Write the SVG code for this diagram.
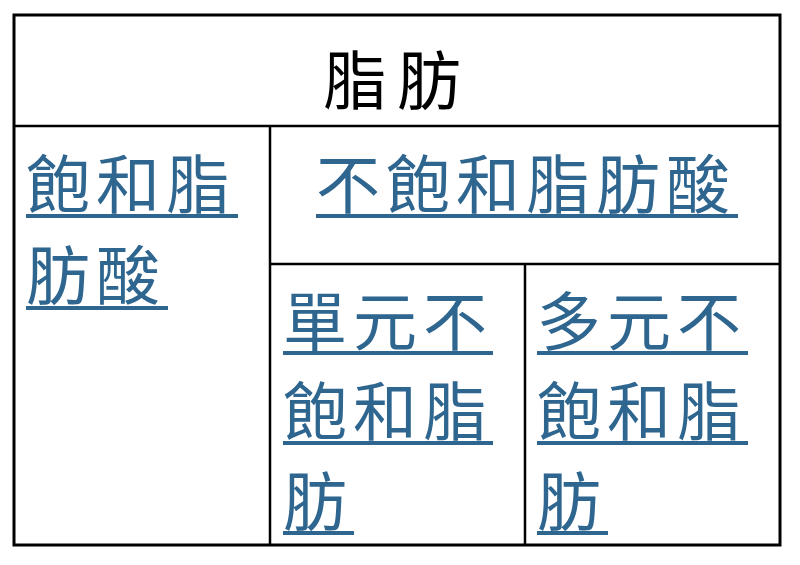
<svg xmlns="http://www.w3.org/2000/svg" width="800" height="565" viewBox="0 0 800 565">
<style>
.t{font-family:"Noto Sans CJK TC","Noto Sans CJK SC",sans-serif;font-size:64px;letter-spacing:6px}
.b{fill:#2F6690}
.h{fill:#000}
.u{fill:#2F6690}
.grid{stroke:#000;fill:none}
</style>
<rect width="800" height="565" fill="#fff"/>
<g id="grid">
<rect class="grid" x="14" y="15" width="766" height="530" stroke-width="3"/>
<line class="grid" x1="14" y1="126" x2="780" y2="126" stroke-width="2.5"/>
<line class="grid" x1="270" y1="126" x2="270" y2="545" stroke-width="2.5"/>
<line class="grid" x1="270" y1="264" x2="780" y2="264" stroke-width="2.5"/>
<line class="grid" x1="525" y1="264" x2="525" y2="545" stroke-width="2.5"/>
</g>
<g id="title">
<text class="t h" x="323" y="104" style="letter-spacing:10px">脂肪</text>
</g>
<g id="saturated">
<text class="t b" x="26" y="208">飽和脂</text>
<rect class="u" x="26" y="214" width="212" height="4"/>
<text class="t b" x="26" y="299">肪酸</text>
<rect class="u" x="26" y="306" width="142" height="4"/>
</g>
<g id="unsaturated">
<text class="t b" x="316" y="208">不飽和脂肪酸</text>
<rect class="u" x="316" y="214" width="422" height="4"/>
</g>
<g id="mono">
<text class="t b" x="283" y="345">單元不</text>
<rect class="u" x="283" y="351" width="210" height="4"/>
<text class="t b" x="283" y="435">飽和脂</text>
<rect class="u" x="283" y="441" width="210" height="4"/>
<text class="t b" x="283" y="525">肪</text>
<rect class="u" x="283" y="531" width="71" height="4"/>
</g>
<g id="poly">
<text class="t b" x="537" y="345">多元不</text>
<rect class="u" x="537" y="351" width="211" height="4"/>
<text class="t b" x="537" y="435">飽和脂</text>
<rect class="u" x="537" y="441" width="211" height="4"/>
<text class="t b" x="537" y="525">肪</text>
<rect class="u" x="537" y="531" width="71" height="4"/>
</g>
</svg>
